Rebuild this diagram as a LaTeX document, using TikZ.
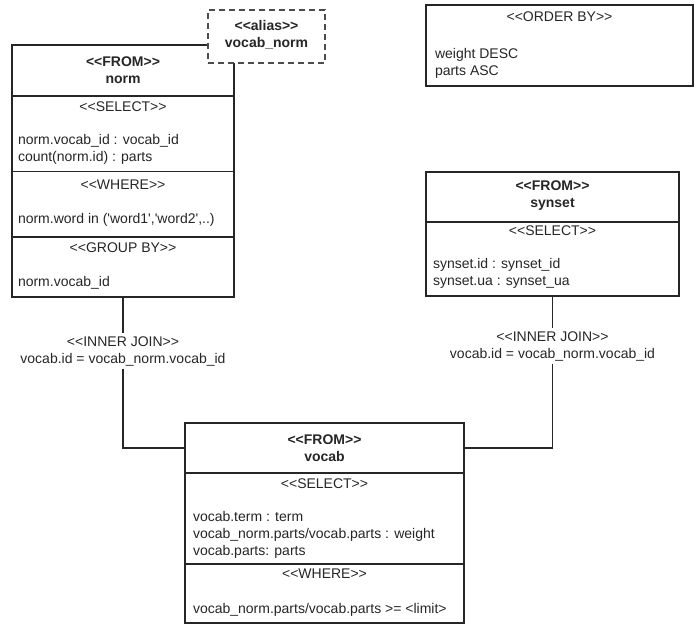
\documentclass[tikz,border=0pt]{standalone}
\usepackage{fontspec}
\setmainfont{Liberation Sans}[Ligatures=TeXOff]
\begin{document}
\begin{tikzpicture}[x=1pt,y=-1pt,
  box/.style={draw=black!85,line width=1.2pt,fill=white,anchor=north west,inner sep=0pt,outer sep=0pt},
  aliasbox/.style={box,dash pattern=on 6pt off 4pt,draw=black!70},
  div/.style={draw=black!85,line width=1.2pt},
  lbl/.style={inner sep=0pt,outer sep=0pt,text=black!85,font=\fontsize{14}{17}\selectfont},
  hd/.style={lbl,align=center,font=\fontsize{14}{17}\selectfont\bfseries},
  ttl/.style={lbl,anchor=center},
  body/.style={lbl,anchor=west,align=left},
  conn/.style={draw=black!85,line width=1.5pt},
  joinlbl/.style={lbl,align=center,inner sep=3pt}]
\useasboundingbox (0,0) rectangle (695,626);

% ---- norm box ----
\node[box,minimum width=222pt,minimum height=252pt] (norm) at (12,45) {};
\draw[div] (12,96) -- (234,96);
\draw[div] (12,171.5) -- (234,171.5);
\draw[div] (12,237) -- (234,237);
\node[hd] (normhd) at (123,70) {<<FROM>>\\norm};
\node[ttl] (normsel) at (123,107) {<<SELECT>>};
\node[body] (normselb) at (18,149.5) {norm.vocab\_id : vocab\_id\\count(norm.id) : parts};
\node[ttl] (normwh) at (123,185) {<<WHERE>>};
\node[body] (normwhb) at (18,220) {norm.word in (\textquotesingle word1\textquotesingle,\textquotesingle word2\textquotesingle,..)};
\node[ttl] (normgb) at (123,248) {<<GROUP BY>>};
\node[body] (normgbb) at (18,283) {norm.vocab\_id};

% ---- alias box ----
\node[aliasbox,minimum width=117pt,minimum height=53pt] (alias) at (208,10) {};
\node[hd] (aliashd) at (266.5,35) {<<alias>>\\vocab\_norm};

% ---- order by box ----
\node[box,minimum width=267pt,minimum height=81pt] (order) at (426,5) {};
\node[ttl] (orderhd) at (559.5,17) {<<ORDER BY>>};
\node[body] (orderb) at (435,63.5) {weight DESC\\parts ASC};

% ---- synset box ----
\node[box,minimum width=253pt,minimum height=124pt] (synset) at (426,172) {};
\draw[div] (426,222) -- (679,222);
\node[hd] (synhd) at (552.5,196) {<<FROM>>\\synset};
\node[ttl] (synsel) at (552.5,231) {<<SELECT>>};
\node[body] (synselb) at (433,273.5) {synset.id : synset\_id\\synset.ua : synset\_ua};

% ---- vocab box ----
\node[box,minimum width=279pt,minimum height=200pt] (vocab) at (185,423) {};
\draw[div] (185,473) -- (464,473);
\draw[div] (185,564) -- (464,564);
\node[hd] (vochd) at (324.5,448) {<<FROM>>\\vocab};
\node[ttl] (vocsel) at (324.5,484) {<<SELECT>>};
\node[body] (vocselb) at (193,535) {vocab.term : term\\vocab\_norm.parts/vocab.parts : weight\\vocab.parts: parts};
\node[ttl] (vocwh) at (324.5,574) {<<WHERE>>};
\node[body] (vocwhb) at (193,610) {vocab\_norm.parts/vocab.parts >= <limit>};

% ---- joins ----
\node[joinlbl] (jl) at (123,351) {<<INNER JOIN>>\\vocab.id = vocab\_norm.vocab\_id};
\node[joinlbl] (jr) at (552.5,346) {<<INNER JOIN>>\\vocab.id = vocab\_norm.vocab\_id};
\path (vocab.north west) ++(0,25) coordinate (vl);
\path (vocab.north east) ++(0,25) coordinate (vr);
\draw[conn] (norm.south) -- (jl.north);
\draw[conn] (jl.south) |- (vl);
\draw[conn] (synset.south) -- (jr.north);
\draw[conn] (jr.south) |- (vr);
\end{tikzpicture}
\end{document}
